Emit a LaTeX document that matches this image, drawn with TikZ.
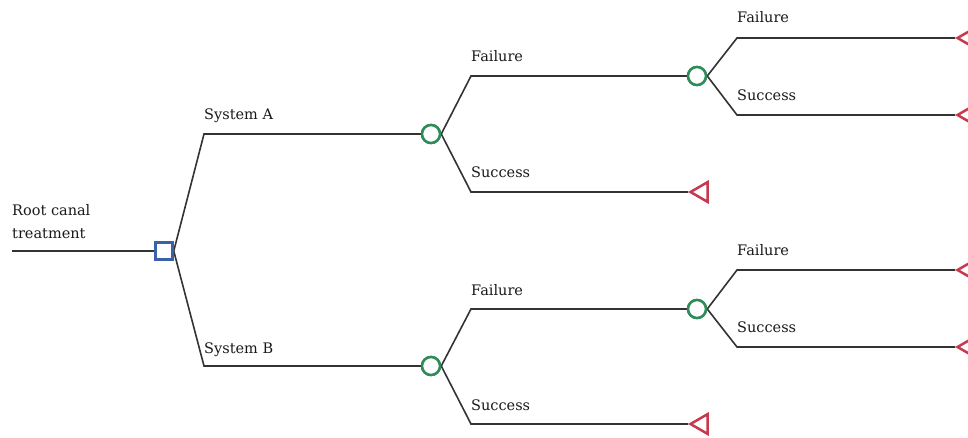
\documentclass[tikz,border=0pt]{standalone}
\usepackage{fontspec}
\setmainfont{DejaVu Serif}
\usetikzlibrary{shapes.geometric}
\definecolor{edgec}{HTML}{333333}
\definecolor{decc}{HTML}{3B62A8}
\definecolor{chc}{HTML}{2E8B5A}
\definecolor{endc}{HTML}{C8384E}
\tikzset{
  br/.style={draw=edgec, line width=1.6pt},
  decnode/.style={draw=decc, line width=2.5pt, fill=white, minimum size=17pt, inner sep=0pt},
  chnode/.style={draw=chc, line width=2.5pt, fill=white, circle, minimum size=18pt, inner sep=0pt},
  endnode/.style={draw=endc, line width=2.5pt, fill=white, isosceles triangle, isosceles triangle apex angle=60, shape border rotate=180, minimum height=17pt, inner sep=0pt, anchor=apex},
  lbl/.style={font=\fontsize{14.5}{17}\selectfont, anchor=base west, inner sep=0pt, text=black!90}
}
\begin{document}
\begin{tikzpicture}[x=1pt,y=-1pt]
\useasboundingbox (0,0) rectangle (968,438);
% nodes
\coordinate (start) at (12,251);
\node[decnode] (d) at (164,251) {};
\node[chnode] (cA) at (431,134) {};
\node[chnode] (cB) at (431,366) {};
\node[chnode] (cAF) at (697,76) {};
\node[chnode] (cBF) at (697,309) {};
\node[endnode] (tAS) at (688,192) {};
\node[endnode] (tBS) at (688,424) {};
\node[endnode] (tAFF) at (955,38) {};
\node[endnode] (tAFS) at (955,115) {};
\node[endnode] (tBFF) at (955,270) {};
\node[endnode] (tBFS) at (955,347) {};
% branches
\draw[br] (start) -- (d.west);
\draw[br] (d.east) -- (204,134) -- (cA.west);
\draw[br] (d.east) -- (204,366) -- (cB.west);
\draw[br] (cA.east) -- (471,76) -- (cAF.west);
\draw[br] (cA.east) -- (471,192) -- (tAS.apex);
\draw[br] (cB.east) -- (471,309) -- (cBF.west);
\draw[br] (cB.east) -- (471,424) -- (tBS.apex);
\draw[br] (cAF.east) -- (737,38) -- (tAFF.apex);
\draw[br] (cAF.east) -- (737,115) -- (tAFS.apex);
\draw[br] (cBF.east) -- (737,270) -- (tBFF.apex);
\draw[br] (cBF.east) -- (737,347) -- (tBFS.apex);
% redraw nodes on top
\node[decnode] at (164,251) {};
\node[chnode] at (431,134) {};
\node[chnode] at (431,366) {};
\node[chnode] at (697,76) {};
\node[chnode] at (697,309) {};
% labels
\node[lbl] (lroot1) at (12,215) {Root canal};
\node[lbl] (lroot2) at (12,238) {treatment};
\node[lbl] (lA) at (204,120) {System A};
\node[lbl] (lB) at (204,353) {System B};
\node[lbl] (lAF) at (471,62) {Failure};
\node[lbl] (lAS) at (471,178) {Success};
\node[lbl] (lBF) at (471,295) {Failure};
\node[lbl] (lBS) at (471,410) {Success};
\node[lbl] (lAFF) at (737,23) {Failure};
\node[lbl] (lAFS) at (737,101) {Success};
\node[lbl] (lBFF) at (737,255) {Failure};
\node[lbl] (lBFS) at (737,332) {Success};
\end{tikzpicture}
\end{document}
